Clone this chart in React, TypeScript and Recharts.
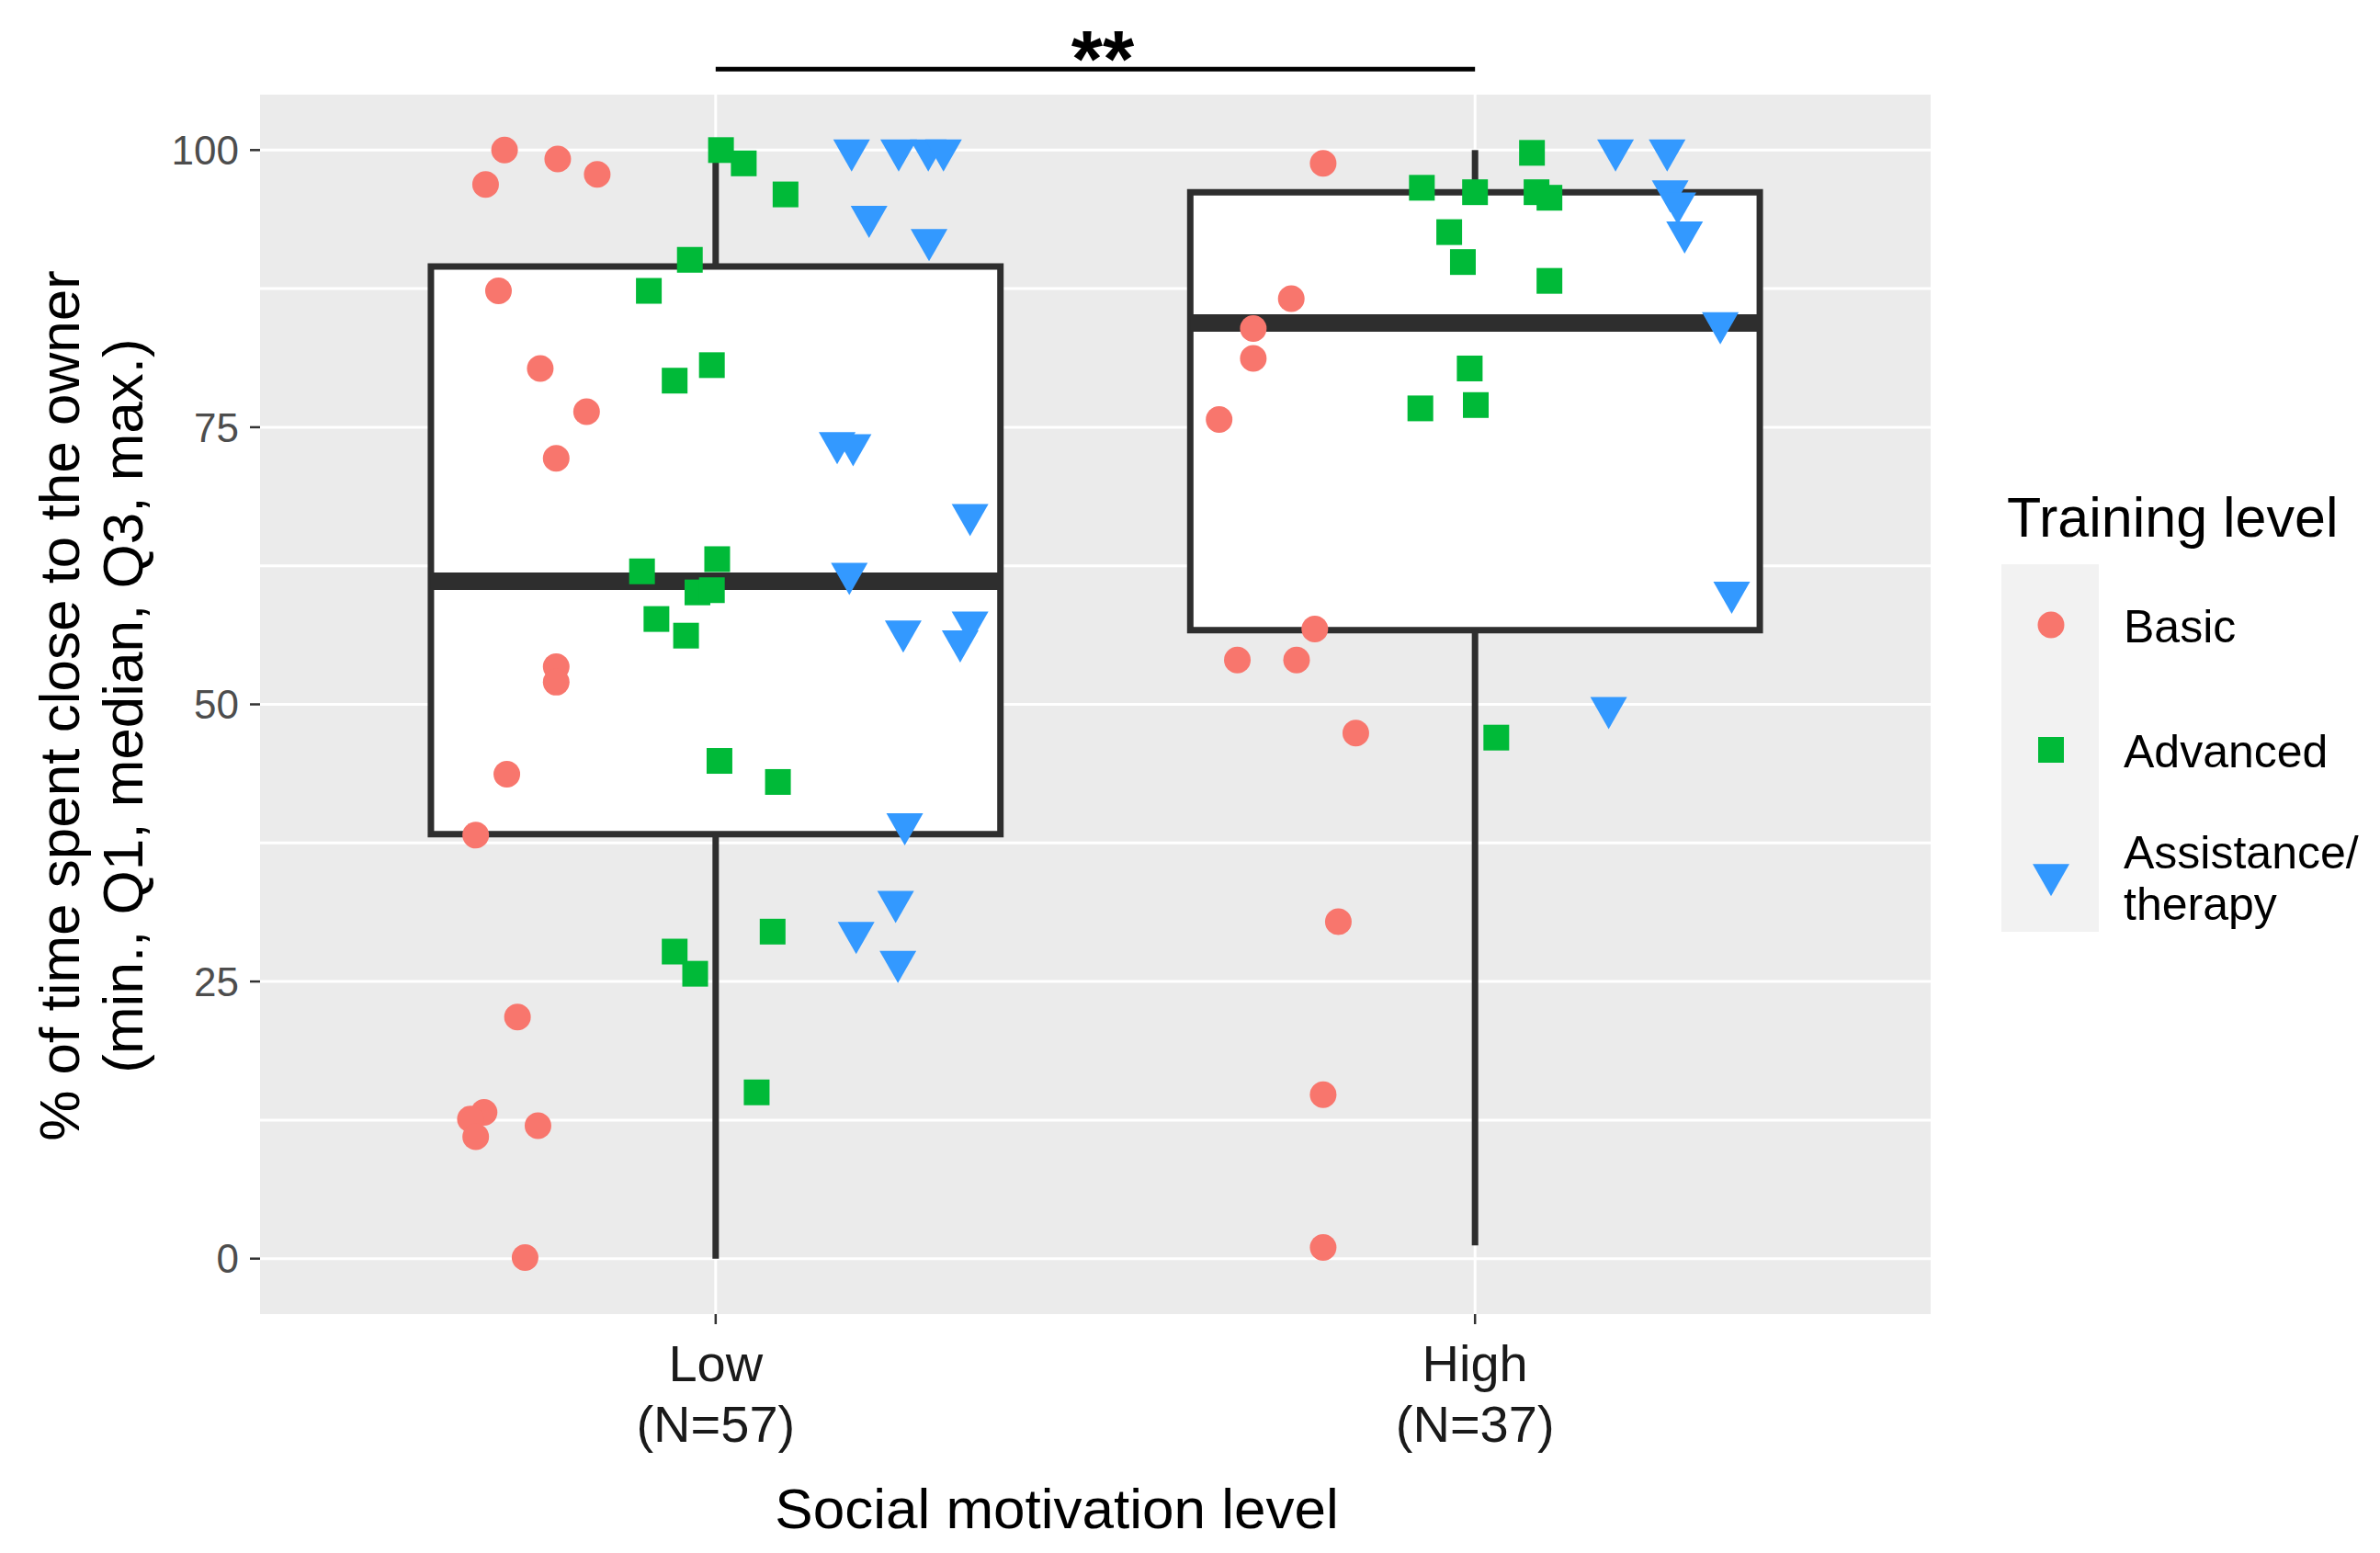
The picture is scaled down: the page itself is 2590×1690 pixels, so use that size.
import React from "react";
import {
  ScatterChart,
  Scatter,
  XAxis,
  YAxis,
  CartesianGrid,
  ReferenceArea,
  ReferenceLine,
} from "recharts";

const FONT = '"Liberation Sans", Arial, sans-serif';

const categories = ["Low", "High"];
const groupSizes = [57, 37];

// box statistics per category
const boxMin = [0, 1.2];
const boxQ1 = [38.3, 56.7];
const boxMedian = [61.1, 84.4];
const boxQ3 = [89.5, 96.2];
const boxMax = [100, 100];
const boxWidth = 0.75;

const yTicks = [0, 25, 50, 75, 100];
const yGrid = [0, 12.5, 25, 37.5, 50, 62.5, 75, 87.5, 100];

// significance bar
const sigLevel = 107.3;
const sigText = "**";

// [jitter offset from category, % of time]
const lowBasic: [number, number][] = [
  [-0.278, 100], [-0.303, 96.9], [-0.208, 99.2], [-0.156, 97.8], [-0.286, 87.3],
  [-0.231, 80.3], [-0.17, 76.4], [-0.21, 72.2], [-0.21, 53.4], [-0.21, 52.0],
  [-0.275, 43.7], [-0.316, 38.2], [-0.261, 21.8], [-0.305, 13.2], [-0.323, 12.6],
  [-0.316, 11.0], [-0.234, 12.0], [-0.251, 0.1],
];
const lowAdvanced: [number, number][] = [
  [0.007, 100], [0.037, 98.8], [0.092, 96.0], [-0.034, 90.1], [-0.088, 87.3],
  [-0.005, 80.6], [-0.054, 79.2], [-0.097, 62.0], [0.002, 63.1], [-0.024, 60.1],
  [-0.005, 60.3], [-0.078, 57.7], [-0.039, 56.2], [0.005, 44.9], [0.082, 43.0],
  [0.075, 29.5], [-0.054, 27.7], [-0.027, 25.7], [0.054, 15.0],
];
const lowAssistance: [number, number][] = [
  [0.179, 100], [0.241, 100], [0.28, 100], [0.3, 100], [0.202, 94.0],
  [0.281, 91.9], [0.16, 73.6], [0.181, 73.4], [0.335, 67.1], [0.176, 61.8],
  [0.247, 56.6], [0.335, 57.4], [0.322, 55.7], [0.249, 39.2], [0.237, 32.2],
  [0.185, 29.4], [0.24, 26.8],
];
const highBasic: [number, number][] = [
  [-0.2, 98.8], [-0.242, 86.6], [-0.292, 83.9], [-0.292, 81.2], [-0.337, 75.7],
  [-0.211, 56.8], [-0.313, 54.0], [-0.235, 54.0], [-0.157, 47.4], [-0.18, 30.4],
  [-0.2, 14.8], [-0.2, 1.0],
];
const highAdvanced: [number, number][] = [
  [0.075, 99.75], [-0.07, 96.6], [0, 96.2], [0.081, 96.2], [0.098, 95.7],
  [-0.034, 92.6], [-0.016, 89.9], [0.098, 88.2], [-0.007, 80.3], [-0.072, 76.7],
  [0.001, 77.0], [0.028, 47.0],
];
const highAssistance: [number, number][] = [
  [0.185, 100], [0.253, 100], [0.257, 96.3], [0.267, 95.2], [0.276, 92.6],
  [0.323, 84.4], [0.338, 60.1], [0.176, 49.7],
];

const seriesLabels = [["Basic"], ["Advanced"], ["Assistance/", "therapy"]];
const seriesColors = ["#F8766D", "#00BA38", "#3399FF"];
const seriesShapes = ["circle", "square", "triangle"];

const toPoints = (cat: number, pts: [number, number][]) =>
  pts.map(([dx, y]) => ({ x: cat + dx, y }));

const seriesData = [
  [...toPoints(1, lowBasic), ...toPoints(2, highBasic)],
  [...toPoints(1, lowAdvanced), ...toPoints(2, highAdvanced)],
  [...toPoints(1, lowAssistance), ...toPoints(2, highAssistance)],
];

const BOX_COLOR = "#2E2E2E";

function Marker({ cx, cy, kind, color }: any) {
  if (cx == null || cy == null) return null;
  if (kind === "circle") return <circle cx={cx} cy={cy} r={14.5} fill={color} />;
  if (kind === "square")
    return <rect x={cx - 14} y={cy - 14} width={28} height={28} fill={color} />;
  // downward triangle, centred on centroid
  const w = 40;
  const h = 35;
  return (
    <path
      d={`M${cx - w / 2},${cy - h / 3} L${cx + w / 2},${cy - h / 3} L${cx},${cy + (2 * h) / 3} Z`}
      fill={color}
    />
  );
}

const XTick = (props: any) => {
  const { x, y, payload } = props;
  const i = Math.round(payload.value) - 1;
  if (i < 0 || i >= categories.length) return null;
  return (
    <g fontFamily={FONT} fontSize={56} fill="#1a1a1a" textAnchor="middle">
      <text x={x} y={y + 60}>{categories[i]}</text>
      <text x={x} y={y + 126}>(N={groupSizes[i]})</text>
    </g>
  );
};

const YTitle = () => (
  <g fontFamily={FONT} fontSize={62} fill="#000" textAnchor="middle">
    <text x={86} y={768} transform="rotate(-90, 86, 768)">
      % of time spent close to the owner
    </text>
    <text x={155} y={768} transform="rotate(-90, 155, 768)">
      (min., Q1, median, Q3, max.)
    </text>
  </g>
);

const XTitle = () => (
  <text x={1150} y={1663} fontFamily={FONT} fontSize={62} fill="#000" textAnchor="middle">
    Social motivation level
  </text>
);

const SigLabel = (props: any) => {
  const vb = props.viewBox || {};
  const cx = (vb.x ?? 779) + (vb.width ?? 826) / 2 + 8;
  const y = (vb.y ?? 76) + 19;
  return (
    <text x={cx} y={y} fontFamily={FONT} fontSize={88} fontWeight="bold" textAnchor="middle" fill="#000">
      {sigText}
    </text>
  );
};

const Legend = () => {
  const rowY = [680, 816, 952];
  const textY = [[699], [835], [945, 1001]];
  return (
    <svg width={2590} height={1690} style={{ position: "absolute", left: 0, top: 0 }}>
      <text x={2184} y={584} fontFamily={FONT} fontSize={61} fill="#000">
        Training level
      </text>
      <rect x={2178} y={614} width={106} height={400} fill="#F2F2F2" />
      {seriesLabels.map((lines, i) => (
        <g key={i}>
          <Marker cx={2232} cy={rowY[i]} kind={seriesShapes[i]} color={seriesColors[i]} />
          {lines.map((t, j) => (
            <text key={j} x={2311} y={textY[i][j]} fontFamily={FONT} fontSize={50} fill="#000">
              {t}
            </text>
          ))}
        </g>
      ))}
    </svg>
  );
};

export default function App() {
  return (
    <div style={{ position: "absolute", left: 0, top: 0, width: 2590, height: 1690, background: "#fff" }}>
      <ScatterChart width={2590} height={1690} margin={{ top: 103, right: 489, bottom: 0, left: 0 }}>
        <CartesianGrid
          fill="#EBEBEB"
          stroke="#FFFFFF"
          strokeWidth={3}
          horizontalValues={yGrid}
          verticalValues={[1, 2]}
        />
        <XAxis
          type="number"
          dataKey="x"
          domain={[0.4, 2.6]}
          ticks={[1, 2]}
          allowDataOverflow
          height={260}
          axisLine={false}
          tickLine={{ stroke: "#333333", strokeWidth: 2.5 }}
          tickSize={11}
          tick={<XTick />}
          label={<XTitle />}
        />
        <YAxis
          type="number"
          dataKey="y"
          domain={[-5, 105]}
          ticks={yTicks}
          allowDataOverflow
          width={283}
          axisLine={false}
          tickLine={{ stroke: "#333333", strokeWidth: 2.5 }}
          tickSize={11}
          tickMargin={12}
          tick={{ fontSize: 44, fill: "#4D4D4D", fontFamily: FONT }}
          label={<YTitle />}
        />
        {categories.map((c, i) => (
          <ReferenceArea
            key={`box-${c}`}
            x1={i + 1 - boxWidth / 2}
            x2={i + 1 + boxWidth / 2}
            y1={boxQ1[i]}
            y2={boxQ3[i]}
            fill="#FFFFFF"
            fillOpacity={1}
            stroke={BOX_COLOR}
            strokeWidth={7}
          />
        ))}
        {categories.map((c, i) => (
          <ReferenceLine
            key={`wu-${c}`}
            segment={[{ x: i + 1, y: boxQ3[i] }, { x: i + 1, y: boxMax[i] }]}
            stroke={BOX_COLOR}
            strokeWidth={7}
          />
        ))}
        {categories.map((c, i) => (
          <ReferenceLine
            key={`wl-${c}`}
            segment={[{ x: i + 1, y: boxQ1[i] }, { x: i + 1, y: boxMin[i] }]}
            stroke={BOX_COLOR}
            strokeWidth={7}
          />
        ))}
        {categories.map((c, i) => (
          <ReferenceLine
            key={`med-${c}`}
            segment={[
              { x: i + 1 - boxWidth / 2, y: boxMedian[i] },
              { x: i + 1 + boxWidth / 2, y: boxMedian[i] },
            ]}
            stroke={BOX_COLOR}
            strokeWidth={19}
          />
        ))}
        <ReferenceLine
          segment={[{ x: 1, y: sigLevel }, { x: 2, y: sigLevel }]}
          ifOverflow="visible"
          stroke="#000"
          strokeWidth={5}
          label={<SigLabel />}
        />
        {seriesData.map((d, i) => (
          <Scatter
            key={`s-${i}`}
            name={seriesLabels[i].join(" ")}
            data={d}
            isAnimationActive={false}
            shape={(p: any) => <Marker cx={p.cx} cy={p.cy} kind={seriesShapes[i]} color={seriesColors[i]} />}
          />
        ))}
      </ScatterChart>
      <Legend />
    </div>
  );
}
